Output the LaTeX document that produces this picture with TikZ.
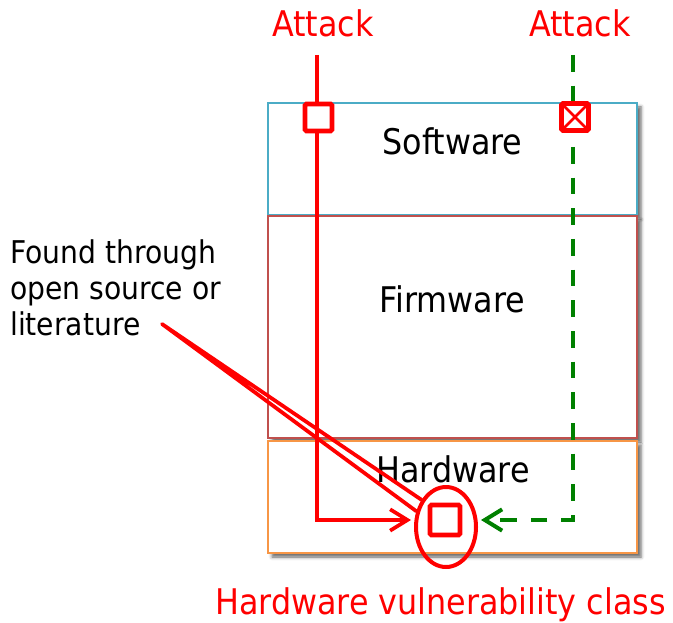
\documentclass[tikz,border=0pt]{standalone}
\usepackage{fontspec}
\setmainfont{DejaVu Sans Condensed}
\usetikzlibrary{arrows.meta,shadows.blur,shapes.geometric}
\definecolor{swblue}{RGB}{75,172,198}
\definecolor{fwred}{RGB}{192,80,77}
\definecolor{hworange}{RGB}{247,150,70}
\definecolor{pathred}{RGB}{255,0,0}
\definecolor{pathgreen}{RGB}{0,128,0}
\begin{document}
\begin{tikzpicture}[x=0.75pt,y=-0.75pt,
  layer/.style={draw=#1, line width=1.3pt, fill=white, minimum width=369*0.75pt,
    inner sep=0pt, outer sep=0pt,
    blur shadow={shadow xshift=3pt, shadow yshift=-3pt, shadow blur radius=2.5pt, shadow opacity=60}},
  bigtext/.style={font=\fontsize{26.5}{30}\selectfont, inner sep=0pt, anchor=base},
  probe/.style={draw=pathred, line width=3.5pt, fill=white, minimum size=27*0.75pt,
    inner sep=0pt, outer sep=0pt, rounded corners=1pt},
  barb/.style={-{Straight Barb[length=13pt,width=16pt]}},
  attack/.style={draw=pathred, line width=2.8pt},
  bypass/.style={draw=pathgreen, line width=3pt, dash pattern=on 12.5pt off 10.5pt}]
\useasboundingbox (0,0) rectangle (673,623);

% the three layers of the system
\node[layer=swblue,   minimum height=112*0.75pt] (sw) at (452.5,159) {};
\node[layer=fwred,    minimum height=222*0.75pt] (fw) at (452.5,327) {};
\node[layer=hworange, minimum height=112*0.75pt] (hw) at (452.5,497) {};

\node[bigtext] (swl) at (452.5,155) {Software};
\node[bigtext] (fwl) at (452.5,312) {Firmware};
\node[bigtext] (hwl) at (453,482) {Hardware};

% attack entry labels
\node[bigtext, text=pathred] (atk1) at (323,37) {Attack};
\node[bigtext, text=pathred] (atk2) at (580,37) {Attack};

% route points of the two attack paths
\coordinate (a1start) at (317,55);
\coordinate (a1bend)  at (317,520);
\coordinate (a1tip)   at (411,520);
\coordinate (a2start) at (573,55);
\coordinate (a2bend)  at (573,520);
\coordinate (a2tip)   at (481,520);

\draw[attack, barb] (a1start) -- (a1bend) -- (a1tip);
\draw[bypass, barb] (a2start) -- (a2bend) -- (a2tip);

% software-level checks: passed and blocked
\node[probe] (sq1) at (318.5,117.5) {};
\node[probe] (sq2) at (575,117) {};
\draw[pathred, line width=2pt] (sq2.north west) -- (sq2.south east)
  (sq2.north east) -- (sq2.south west);

% the hardware vulnerability
\node[ellipse, draw=pathred, line width=3pt, minimum width=60*0.75pt,
  minimum height=80*0.75pt, inner sep=0pt] (ell) at (446,527) {};
\node[probe, minimum size=30*0.75pt] (hwv) at (445,520) {};

\node[bigtext, text=pathred] (vul) at (440.5,614) {Hardware vulnerability class};

% callout to the source of the knowledge
\node[font=\fontsize{23.5}{27}\selectfont, align=left, anchor=base west, inner sep=0pt] (src)
  at (10,335) {Found through\\open source or\\literature};
\coordinate (wedgetip) at (162,324);
\draw[attack, line join=round, line cap=round] (ell.132) -- (wedgetip) -- (ell.152);
\end{tikzpicture}
\end{document}
